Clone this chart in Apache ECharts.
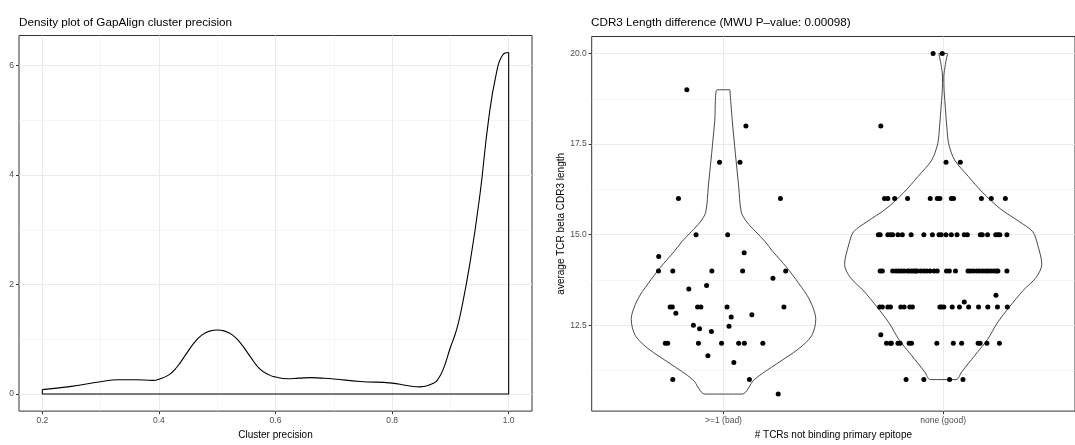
<!DOCTYPE html>
<html>
<head>
<meta charset="utf-8">
<script src="https://cdn.jsdelivr.net/npm/echarts@6/dist/echarts.min.js"></script>
<style>
  html, body { margin: 0; padding: 0; background: #fff; }
  #chart { width: 1075px; height: 445px; }
</style>
</head>
<body>
<div id="chart"></div>
<script>
// left panel: density of cluster precision
var precisionX = [0.2, 0.25, 0.3, 0.33, 0.36, 0.39, 0.4, 0.417, 0.43, 0.446, 0.46, 0.474, 0.487, 0.5, 0.513, 0.526,
    0.54, 0.557, 0.573, 0.589, 0.6, 0.62, 0.64, 0.66, 0.68, 0.7, 0.745, 0.8, 0.825, 0.848, 0.871, 0.879, 0.888,
    0.9, 0.909, 0.917, 0.934, 0.951, 0.965, 0.979, 0.99, 1.0];
var precisionDensity = [0.08, 0.14, 0.225, 0.26, 0.26, 0.25, 0.27, 0.35, 0.48, 0.72, 0.93, 1.08, 1.15, 1.17, 1.15, 1.08,
    0.93, 0.68, 0.46, 0.35, 0.31, 0.28, 0.29, 0.30, 0.29, 0.275, 0.23, 0.20, 0.155, 0.13, 0.196, 0.275, 0.46,
    0.85, 1.12, 1.45, 2.42, 3.67, 4.97, 5.87, 6.2, 6.24];
var precisionTicks = [0.2, 0.4, 0.6, 0.8, 1.0];
var densityTicks = [0, 2, 4, 6];

// right panel: CDR3 length violins
var groupNames = ['>=1 (bad)', 'none (good)'];
var lengthTicks = [12.5, 15, 17.5, 20];

var badViolinY = [19.0, 18.14, 17.24, 16.34, 15.62, 15.35, 15.08, 14.81, 14.54, 14.10, 13.65, 13.20, 12.66, 12.21, 11.85, 11.44, 11.00, 10.6];
var badViolinW = [0.029, 0.040, 0.054, 0.069, 0.081, 0.106, 0.147, 0.189, 0.224, 0.287, 0.343, 0.392, 0.420, 0.401, 0.342, 0.243, 0.140, 0.084];

var goodViolinY = [20.0, 19.7, 19.35, 19.0, 18.41, 17.95, 17.51, 17.06, 16.61, 16.16, 15.71, 15.35, 15.08, 14.72, 14.18, 13.82, 13.46, 13.01, 12.56, 12.11, 11.66, 11.21, 11.0];
var goodViolinW = [0.020, 0.010, 0.003, 0.004, 0.011, 0.017, 0.025, 0.052, 0.114, 0.180, 0.261, 0.349, 0.408, 0.430, 0.449, 0.423, 0.364, 0.302, 0.246, 0.202, 0.143, 0.084, 0.059];

var badPtsX = [0.833, 1.102, 0.982, 1.075, 0.795, 1.259, 0.875, 1.019, 0.705, 1.094, 0.704, 0.769, 0.947, 1.087, 1.283,
    1.225, 0.842, 0.923, 0.757, 0.767, 0.882, 0.897, 1.016, 1.275, 0.783, 1.035, 1.129, 0.863, 0.891, 1.025, 0.945,
    0.735, 0.746, 0.886, 0.991, 1.069, 1.095, 1.179, 0.929, 1.047, 0.769, 1.118, 1.249];
var badPtsY = [19, 18, 17, 17, 16, 16, 15, 15, 14.4, 14.5, 14, 14, 14, 14, 14,
    13.8, 13.5, 13.6, 13, 13, 13, 13, 13, 13, 12.83, 12.73, 12.79, 12.5, 12.4, 12.47, 12.33,
    12, 12, 12, 12, 12, 12, 12, 11.66, 11.47, 11, 11, 10.6];

var goodLevels = [20, 18, 17, 16, 15, 14, 13, 12, 11];
var goodLevelX = [
    [1.954, 1.996],
    [1.716],
    [2.013, 2.078],
    [1.733, 1.748, 1.779, 1.838, 1.941, 1.973, 1.985, 2.037, 2.047, 2.174, 2.219, 2.283],
    [1.705, 1.713, 1.748, 1.760, 1.770, 1.794, 1.814, 1.854, 1.912, 1.951, 1.981, 1.991, 2.013, 2.037, 2.063, 2.096,
        2.110, 2.169, 2.178, 2.202, 2.239, 2.249, 2.258, 2.290],
    [1.713, 1.723, 1.770, 1.785, 1.797, 1.809, 1.822, 1.837, 1.845, 1.857, 1.866, 1.875, 1.881, 1.897, 1.912, 1.925,
        1.940, 1.959, 1.973, 2.015, 2.028, 2.056, 2.113, 2.125, 2.138, 2.153, 2.165, 2.180, 2.194, 2.205, 2.218, 2.231,
        2.243, 2.249, 2.290],
    [1.711, 1.723, 1.748, 1.760, 1.807, 1.822, 1.848, 1.860, 1.985, 1.993, 2.003, 2.041, 2.074, 2.116, 2.161, 2.203, 2.247, 2.292],
    [1.742, 1.760, 1.764, 1.794, 1.804, 1.845, 1.856, 1.971, 2.046, 2.084, 2.159, 2.168, 2.199, 2.256],
    [1.831, 1.912, 2.029, 2.090]
];
var goodExtraX = [2.096, 2.240, 1.716];
var goodExtraY = [13.14, 13.33, 12.24];

var FONT = '"Liberation Sans", Arial, Helvetica, sans-serif';

function zip(xs, ys) {
    return xs.map(function (x, i) { return [x, ys[i]]; });
}

function violinPath(center, ys, ws) {
    var right = ys.map(function (y, i) { return [center + ws[i], y]; });
    var left = ys.map(function (y, i) { return [center - ws[i], y]; }).reverse();
    return right.concat(left, [right[0]]);
}

var goodPts = zip(goodExtraX, goodExtraY);
goodLevels.forEach(function (lv, i) {
    goodLevelX[i].forEach(function (x) { goodPts.push([x, lv]); });
});

var last = precisionX.length - 1;
var frameData = [
    [precisionX[0], precisionDensity[0]], [precisionX[0], 0],
    [precisionX[last], 0], [precisionX[last], precisionDensity[last]]
];

function valueAxis(opt) {
    var base = {
        type: 'value',
        axisLine: {show: false, onZero: false},
        axisTick: {show: true, length: 3, lineStyle: {color: '#333', width: 1}},
        axisLabel: {color: '#4d4d4d', fontSize: 8.5, fontFamily: FONT, margin: 5},
        splitLine: {show: true, lineStyle: {color: '#ebebeb', width: 1}},
        minorTick: {show: false, splitNumber: 2},
        minorSplitLine: {show: true, lineStyle: {color: '#ebebeb', width: 0.5}},
        nameTextStyle: {color: '#000', fontSize: 10, fontFamily: FONT}
    };
    return echarts.util.merge(base, opt, true);
}

var chart = echarts.init(document.getElementById('chart'), null, {renderer: 'canvas'});

var titleStyle = {fontSize: 11.7, fontWeight: 'normal', color: '#000', fontFamily: FONT};

var option = {
    animation: false,
    backgroundColor: '#fff',
    title: [
        {text: 'Density plot of GapAlign cluster precision', left: 19, top: 17, padding: 0, textStyle: titleStyle},
        {text: 'CDR3 Length difference (MWU P\u2013value: 0.00098)', left: 591, top: 17, padding: 0, textStyle: titleStyle}
    ],
    grid: [
        {left: 19, top: 35.5, width: 513, height: 387.5, show: true, borderColor: '#333', borderWidth: 1, backgroundColor: '#fff'},
        {left: 591.7, top: 36.5, width: 498, height: 385.5, show: true, borderColor: '#333', borderWidth: 1, backgroundColor: '#fff'}
    ],
    xAxis: [
        valueAxis({
            gridIndex: 0, min: 0.16, max: 1.04, minInterval: 0.2, maxInterval: 0.2,
            axisTick: {customValues: precisionTicks},
            axisLabel: {customValues: precisionTicks, formatter: function (v) { return v.toFixed(1); }},
            name: 'Cluster precision', nameLocation: 'middle', nameGap: 12
        }),
        valueAxis({
            gridIndex: 1, min: 0.4, max: 2.6,
            axisTick: {customValues: [1, 2]},
            axisLabel: {customValues: [1, 2], formatter: function (v) { return groupNames[Math.round(v) - 1]; }},
            minorSplitLine: {show: false},
            name: '# TCRs not binding primary epitope', nameLocation: 'middle', nameGap: 12
        })
    ],
    yAxis: [
        valueAxis({
            gridIndex: 0, min: -0.312, max: 6.552, minInterval: 2, maxInterval: 2,
            axisTick: {customValues: densityTicks},
            axisLabel: {customValues: densityTicks}
        }),
        valueAxis({
            gridIndex: 1, min: 10.13, max: 20.47, minInterval: 2.5, maxInterval: 2.5,
            axisTick: {customValues: lengthTicks},
            axisLabel: {customValues: lengthTicks, formatter: function (v) { return v.toFixed(1); }},
            name: 'average TCR beta CDR3 length', nameLocation: 'middle', nameGap: 24
        })
    ],
    series: [
        {
            type: 'line', xAxisIndex: 0, yAxisIndex: 0,
            data: zip(precisionX, precisionDensity),
            showSymbol: false, smooth: 0.5,
            lineStyle: {color: '#000', width: 1.1}, silent: true, z: 3
        },
        {
            type: 'line', xAxisIndex: 0, yAxisIndex: 0,
            data: frameData,
            showSymbol: false,
            lineStyle: {color: '#000', width: 1.1}, silent: true, z: 3
        },
        {
            type: 'line', xAxisIndex: 1, yAxisIndex: 1,
            data: violinPath(1, badViolinY, badViolinW),
            showSymbol: false, smooth: 0.3,
            lineStyle: {color: '#333', width: 0.9}, silent: true, z: 3
        },
        {
            type: 'line', xAxisIndex: 1, yAxisIndex: 1,
            data: violinPath(2, goodViolinY, goodViolinW),
            showSymbol: false, smooth: 0.3,
            lineStyle: {color: '#333', width: 0.9}, silent: true, z: 3
        },
        {
            type: 'scatter', xAxisIndex: 1, yAxisIndex: 1,
            data: zip(badPtsX, badPtsY),
            symbolSize: 5, itemStyle: {color: '#000', opacity: 1}, silent: true, z: 4
        },
        {
            type: 'scatter', xAxisIndex: 1, yAxisIndex: 1,
            data: goodPts,
            symbolSize: 5, itemStyle: {color: '#000', opacity: 1}, silent: true, z: 4
        }
    ]
};

chart.setOption(option);
</script>
</body>
</html>
